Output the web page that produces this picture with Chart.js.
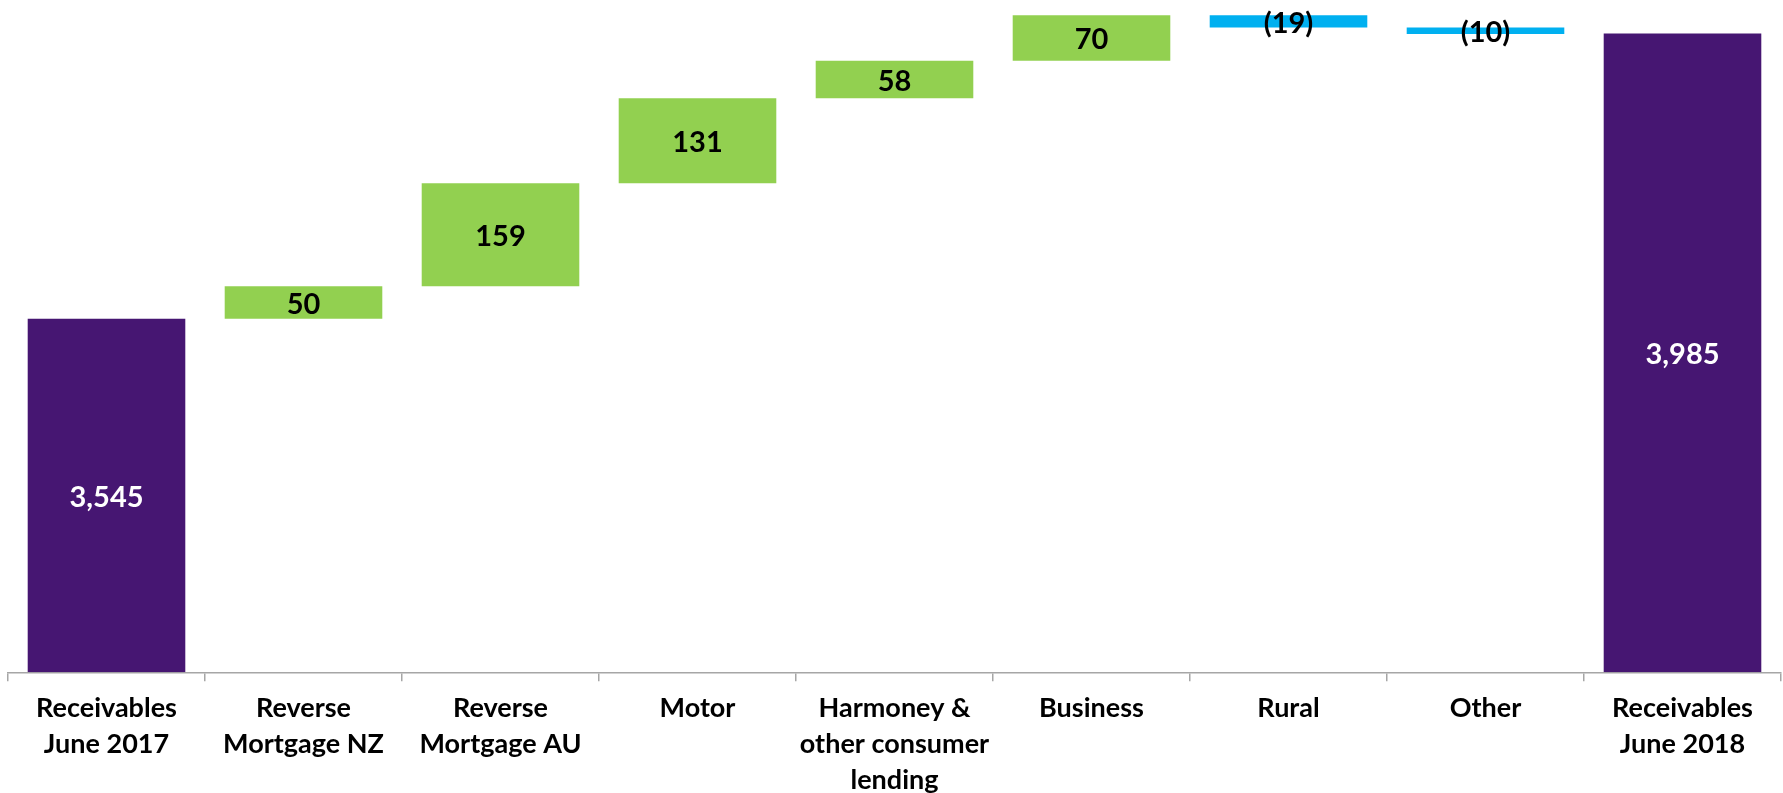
<!DOCTYPE html>
<html>
<head>
<meta charset="utf-8">
<script src="https://cdn.jsdelivr.net/npm/chart.js@4.4.1/dist/chart.umd.min.js"></script>
<style>
  html, body { margin: 0; padding: 0; background: #fff; }
  #wrap { width: 1783px; height: 793px; }
</style>
</head>
<body>
<div id="wrap"><canvas id="waterfall" width="1783" height="793"></canvas></div>
<script>
// Receivables bridge, June 2017 -> June 2018 (NZ$m)
const categories = [
    'Receivables|June 2017',
    'Reverse|Mortgage NZ',
    'Reverse|Mortgage AU',
    'Motor',
    'Harmoney &|other consumer|lending',
    'Business',
    'Rural',
    'Other',
    'Receivables|June 2018'
];
const steps = [3545, 50, 159, 131, 58, 70, -19, -10, 3985];
const isTotal = [true, false, false, false, false, false, false, false, true];
const valueLabels = ['3,545', '50', '159', '131', '58', '70', '(19)', '(10)', '3,985'];

const purple = '#461672';
const green = '#92D050';
const blue = '#00B0F0';

// Build floating ranges for the waterfall
let running = 0;
const ranges = steps.map((v, i) => {
    if (isTotal[i]) {
        running = v;
        return [3000, v];
    }
    const start = running;
    running += v;
    return [start, running];
});

const colors = steps.map((v, i) => isTotal[i] ? purple : (v < 0 ? blue : green));

// Draw the value inside each bar
const valueLabelPlugin = {
    id: 'valueLabels',
    afterDatasetsDraw(chart) {
        const ctx = chart.ctx;
        const meta = chart.getDatasetMeta(0);
        ctx.save();
        ctx.font = 'bold 29px Lato';
        ctx.textAlign = 'center';
        ctx.textBaseline = 'middle';
        meta.data.forEach((bar, i) => {
            ctx.fillStyle = isTotal[i] ? '#ffffff' : '#000000';
            ctx.fillText(valueLabels[i], bar.x, (bar.y + bar.base) / 2 + 2);
        });
        ctx.restore();
    }
};

new Chart(document.getElementById('waterfall').getContext('2d'), {
    type: 'bar',
    data: {
        labels: categories.map(c => c.split('|')),
        datasets: [{
            data: ranges,
            backgroundColor: colors,
            borderWidth: 0,
            barPercentage: 0.8,
            categoryPercentage: 1.0
        }]
    },
    options: {
        responsive: false,
        animation: false,
        devicePixelRatio: 1,
        layout: { padding: { top: 1, left: 8, right: 2, bottom: -14 } },
        plugins: {
            legend: { display: false },
            tooltip: { enabled: false }
        },
        scales: {
            x: {
                grid: {
                    display: true,
                    drawOnChartArea: false,
                    drawTicks: true,
                    tickLength: 9,
                    color: '#A6A6A6',
                    lineWidth: 1.5
                },
                border: { display: true, color: '#A6A6A6', width: 1.5 },
                ticks: {
                    color: '#000000',
                    padding: 9,
                    maxRotation: 0,
                    autoSkip: false,
                    font: { family: 'Lato', weight: 'bold', size: 27, lineHeight: 1.33 }
                }
            },
            y: {
                display: false,
                min: 3000,
                max: 4035
            }
        }
    },
    plugins: [valueLabelPlugin]
});
</script>
</body>
</html>
